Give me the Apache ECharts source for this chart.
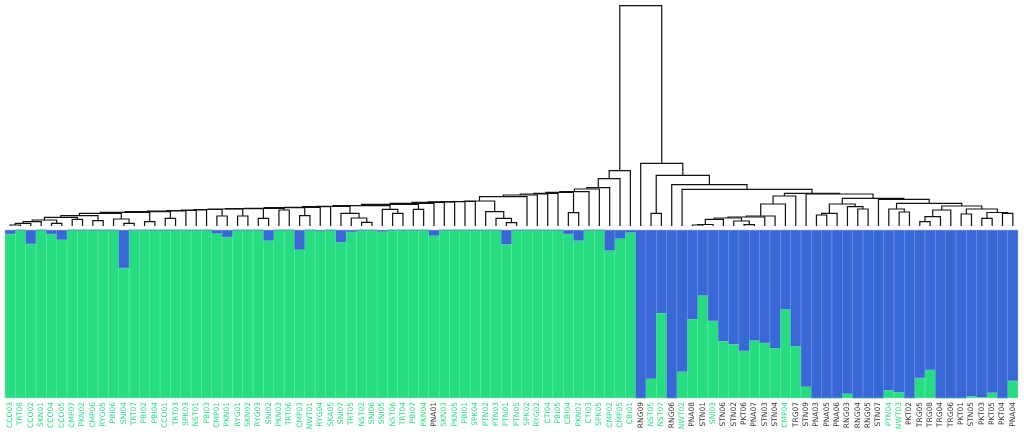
<!DOCTYPE html>
<html>
<head>
<meta charset="utf-8">
<script src="https://cdn.jsdelivr.net/npm/echarts@6/dist/echarts.min.js"></script>
<style>html,body{margin:0;padding:0;background:#fff}#c{width:1024px;height:444px}</style>
</head>
<body>
<div id="c"></div>
<script>
// Sample labels (leaf order)
const samples = ['CCO03','TRT08','CCO02','SKN01','CCO04','CCO05','CMP07','PKN02','CMP06','RYG05','PBI06','SNI04','TRT07','PBI02','PBI04','CCO01','TRT03','SPK03','NST01','PBI03','CMP01','PKN01','RYG01','SKN02','RYG03','SNI02','PKN03','TRT06','CMP03','NWT01','RYG04','SKA05','SNI07','TRT05','NST02','SNI06','SNI05','NST06','TRT04','PBI07','PKN04','PNA01','SKN03','PKN05','PBI01','SPK04','PTN02','PTN03','PTN01','PTN05','SPK02','RYG02','CTI04','PBI05','CBI04','PKN07','CTI03','SPK05','CMP02','CMP05','CBI01','RNG09','NST05','NST07','RNG06','NWT02','PNA08','STN01','SNI03','STN06','STN02','PKT06','PNA07','STN03','STN04','CMP04','TRG07','STN09','PNA03','PNA05','PNA06','RNG03','RNG04','RNG05','STN07','PTN04','NWT03','PKT02','TRG05','TRG08','TRG04','TRG06','PKT01','STN05','PKT03','PKT05','PKT04','PNA04'];
// Label group: 1 = green label, 0 = black label
const labelGroup = [1,1,1,1,1,1,1,1,1,1,1,1,1,1,1,1,1,1,1,1,1,1,1,1,1,1,1,1,1,1,1,1,1,1,1,1,1,1,1,1,1,0,1,1,1,1,1,1,1,1,1,1,1,1,1,1,1,1,1,1,1,0,1,1,0,1,0,0,1,0,0,0,0,0,0,1,0,0,0,0,0,0,0,0,0,1,1,0,0,0,0,0,0,0,0,0,0,0];
// Membership in cluster 1 (green) and cluster 2 (blue)
const cluster1 = [0.976,1,0.917,1,0.976,0.942,1,1,1,1,1,0.774,1,1,1,1,1,1,1,1,0.98,0.958,1,1,1,0.937,1,1,0.883,1,0.995,1,0.927,0.988,1,1,0.99,1,1,1,1,0.966,1,1,1,1,1,1,0.915,1,1,1,1,1,0.976,0.937,1,1,0.878,0.949,0.985,0,0.115,0.505,0,0.156,0.469,0.611,0.459,0.338,0.32,0.28,0.342,0.328,0.297,0.528,0.309,0.067,0,0,0,0.026,0,0,0,0.046,0.034,0,0.119,0.167,0,0,0,0.01,0.005,0.032,0,0.101];
const cluster2 = [0.024,0,0.083,0,0.024,0.058,0,0,0,0,0,0.226,0,0,0,0,0,0,0,0,0.02,0.042,0,0,0,0.063,0,0,0.117,0,0.005,0,0.073,0.012,0,0,0.01,0,0,0,0,0.034,0,0,0,0,0,0,0.085,0,0,0,0,0,0.024,0.063,0,0,0.122,0.051,0.015,1,0.885,0.495,1,0.844,0.531,0.389,0.541,0.662,0.68,0.72,0.658,0.672,0.703,0.472,0.691,0.933,1,1,1,0.974,1,1,1,0.954,0.966,1,0.881,0.833,1,1,1,0.99,0.995,0.968,1,0.899];
// Dendrogram merges: [name, left, right, height]; numbers are leaf indices, strings are earlier merges
const merges = [
 ['a1',0,1,1],['a2','a1',2,2.7],['a3','a2',3,4.3],['b45',4,5,2.7],['a4','a3','b45',6],
 ['b67',6,7,6.7],['a5','a4','b67',8.7],['b89',8,9,5.3],['a6','a5','b89',10.3],
 ['b1112',11,12,2.7],['b1012',10,'b1112',7],['a7','a6','b1012',12.7],
 ['b1314',13,14,4.3],['a8','a7','b1314',13.7],['b1516',15,16,7.7],['a9','a8','b1516',14.3],
 ['a10','a9',17,15],['a11','a10',18,15.5],['a12','a11',19,16],
 ['b2021',20,21,10],['a13','a12','b2021',16.5],['b2223',22,23,10],['a14','a13','b2223',17],
 ['b2425',24,25,7.7],['a15','a14','b2425',17.3],['b2627',26,27,16],['a16','a15','b2627',17.7],
 ['b2829',28,29,10.3],['a17','a16','b2829',18.3],['a18','a17',30,18.7],['a19','a18',31,19.3],
 ['b3435',34,35,3.7],['b3335',33,'b3435',8],['b3235',32,'b3335',12.7],['a20','a19','b3235',19.7],
 ['b3738',37,38,12.7],['b3638',36,'b3738',16.7],['a21','a20','b3638',20.3],
 ['b3940',39,40,16.7],['a22','a21','b3940',21.7],['a23','a22',41,22.7],['a24','a23',42,23.7],
 ['a25','a24',43,24.1],['a26','a25',44,24.3],['a27','a26',45,24.5],
 ['b4849',48,49,3.3],['b4749',47,'b4849',7.7],['b4649',46,'b4749',14.3],['a28','a27','b4649',25],
 ['k1','a28',50,29.3],['k2','k1',51,31],['k3','k2',52,32],['k4','k3',53,32.7],
 ['b5455',54,55,13.3],['k5','k4','b5455',33.7],['k6','k5',56,34.3],['k7','k6',57,37],
 ['k8','k7',58,38.3],['k9','k8',59,47.3],['k10','k9',60,55.3],
 ['n2',62,63,12.7],['p1',66,67,1],['p2','p1',68,1.5],['p3','p2',69,6.7],['p4',71,72,1.3],
 ['p5',70,'p4',5],['p6','p3','p5',8],['p7','p6',73,9],['p8','p7',74,10],['p9','p8',75,22],
 ['n6','p9',76,30],['w1',78,79,11],['w2','w1',80,12.7],['w3',82,83,17],['w4',81,'w3',19.3],
 ['w','w2','w4',22],['v1a',86,87,14],['v1',85,'v1a',17],['v3a',88,89,4.3],['v3b','v3a',90,9.3],
 ['v3','v3b',91,16],['v5',92,93,12],['v6a',94,95,7.7],['v6b',96,97,12.7],['v6','v6a','v6b',13.5],
 ['v4','v5','v6',17],['v2','v3','v4',20],['vp','v1','v2',22.7],['v',84,'vp',26.7],
 ['z','w','v',27.7],['q',77,'z',32],['n5','n6','q',32.7],['n4',65,'n5',36.7],['n3',64,'n4',41.3],
 ['n1','n2','n3',50.7],['rr',61,'n1',62.7],['root','k10','rr',220.3]
];

const GREEN = '#26de81', BLUE = '#3867d6';
const nodes = {};
function pos(ref){ return typeof ref === 'number' ? [ref, 0] : [nodes[ref].x, nodes[ref].h]; }
const links = merges.map(m => {
  const a = pos(m[1]), b = pos(m[2]);
  nodes[m[0]] = {x: (a[0] + b[0]) / 2, h: m[3]};
  return [a[0], a[1], b[0], b[1], m[3]];
});

const chart = echarts.init(document.getElementById('c'), null, {renderer: 'canvas'});
chart.setOption({
  animation: false,
  backgroundColor: '#fff',
  grid: [
    {left: 5, right: 6, top: 230, height: 168},
    {left: 5, right: 6, top: 0, height: 226}
  ],
  xAxis: [
    {type: 'category', gridIndex: 0, data: samples, boundaryGap: true,
     axisLine: {show: false}, axisTick: {show: false}, splitLine: {show: false},
     axisLabel: {interval: 0, rotate: 90, fontSize: 7.5, fontFamily: 'DejaVu Sans', margin: 4,
       color: (v, i) => labelGroup[i] ? GREEN : '#333'}},
    {type: 'value', gridIndex: 1, min: -0.5, max: 97.5, show: false}
  ],
  yAxis: [
    {type: 'value', gridIndex: 0, min: 0, max: 1, show: false},
    {type: 'value', gridIndex: 1, min: 0, max: 226, show: false}
  ],
  series: [
    {type: 'bar', stack: 'q', data: cluster1, barCategoryGap: 0,
     itemStyle: {color: GREEN, borderColor: GREEN, borderWidth: 0.4}, xAxisIndex: 0, yAxisIndex: 0},
    {type: 'bar', stack: 'q', data: cluster2, barCategoryGap: 0,
     itemStyle: {color: BLUE, borderColor: BLUE, borderWidth: 0.4}, xAxisIndex: 0, yAxisIndex: 0},
    {type: 'custom', xAxisIndex: 1, yAxisIndex: 1, data: links, clip: false,
     encode: {x: [0, 2], y: [1, 3, 4]},
     renderItem: (params, api) => {
       const p1 = api.coord([api.value(0), api.value(1)]);
       const p2 = api.coord([api.value(0), api.value(4)]);
       const p3 = api.coord([api.value(2), api.value(4)]);
       const p4 = api.coord([api.value(2), api.value(3)]);
       return {type: 'polyline', shape: {points: [p1, p2, p3, p4]},
               style: {stroke: '#111', lineWidth: 1.2, fill: null}};
     }}
  ]
});
</script>
</body>
</html>
